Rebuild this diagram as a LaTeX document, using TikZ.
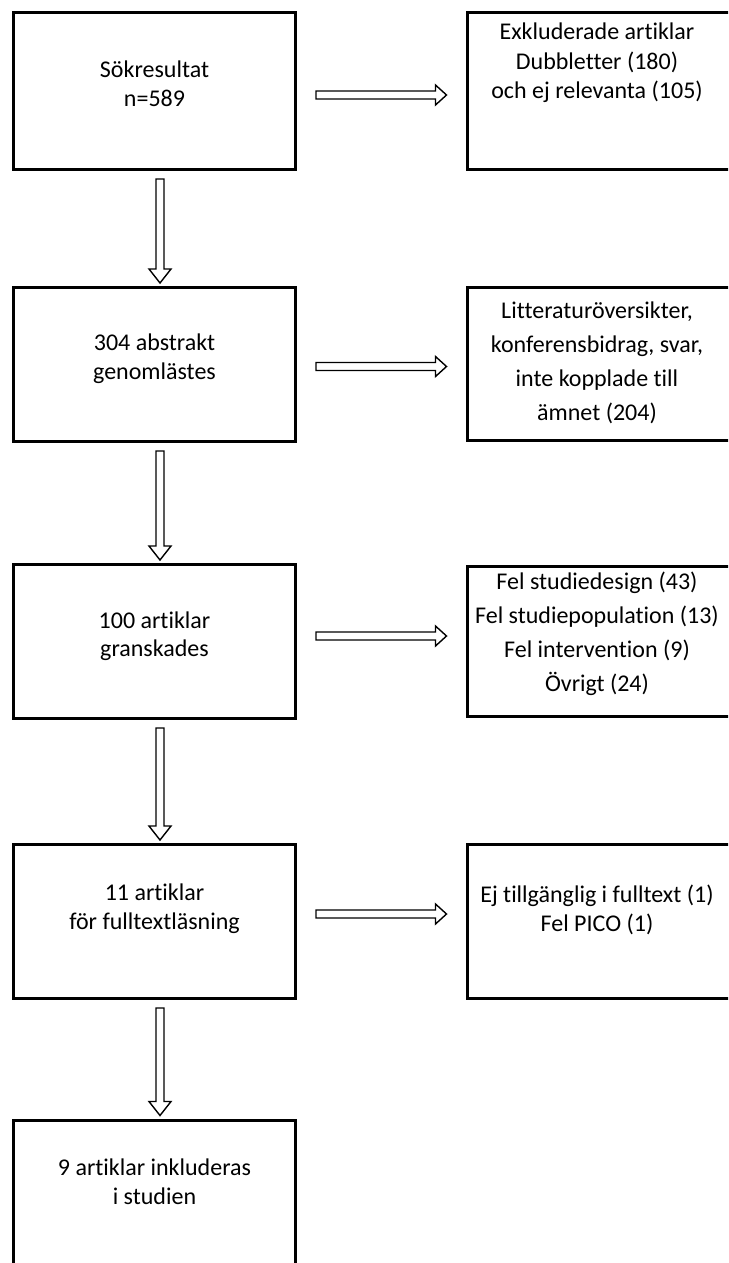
\documentclass[tikz,border=0pt]{standalone}
\usepackage{fontspec}
\setmainfont{Carlito}[Ligatures=NoCommon]
\usetikzlibrary{calc}
\begin{document}
\begin{tikzpicture}[x=1pt,y=1pt,
  box/.style={draw, line width=3pt, inner sep=0pt},
  lbox/.style={box, minimum width=282pt},
  rbox/.style={box, minimum width=268pt},
  ltxt/.style={align=center, inner sep=0pt, font=\fontsize{24}{28.5}\selectfont},
  rtxt/.style={align=center, inner sep=0pt, font=\fontsize{24}{34}\selectfont},
  rtxtn/.style={align=center, inner sep=0pt, font=\fontsize{24}{29.5}\selectfont},
  harrow/.style={draw, line width=1.4pt, fill=white, line join=miter,
    to path={let \p1=(\tikztostart), \p2=(\tikztotarget) in
      (\x1,\y1+4pt) -- (\x2-11pt,\y1+4pt) -- (\x2-11pt,\y1+10pt) -- (\x2,\y1)
      -- (\x2-11pt,\y1-10pt) -- (\x2-11pt,\y1-4pt) -- (\x1,\y1-4pt) -- cycle}},
  varrow/.style={draw, line width=1.4pt, fill=white, line join=miter,
    to path={let \p1=(\tikztostart), \p2=(\tikztotarget) in
      (\x1-4pt,\y1) -- (\x1-4pt,\y2+14pt) -- (\x1-11pt,\y2+14pt) -- (\x1,\y2)
      -- (\x1+11pt,\y2+14pt) -- (\x1+4pt,\y2+14pt) -- (\x1+4pt,\y1) -- cycle}},
]
\useasboundingbox (0,0) rectangle (728,-1263);
\clip (0,0) rectangle (728,-1263);
\fill[white] (0,0) rectangle (728,-1263);

% left column
\node[lbox, minimum height=157pt] (b1) at (154.5,-91) {};
\node[lbox, minimum height=154pt] (b2) at (154.5,-364.5) {};
\node[lbox, minimum height=154pt] (b3) at (154.5,-641.5) {};
\node[lbox, minimum height=154pt] (b4) at (154.5,-921.5) {};
\node[lbox, minimum height=160pt] (b5) at (154.5,-1200) {};

% right column
\node[rbox, minimum height=157pt] (r1) at (601,-91) {};
\node[rbox, minimum height=153pt] (r2) at (601,-364) {};
\node[rbox, minimum height=150pt] (r3) at (601,-641.5) {};
\node[rbox, minimum height=154pt] (r4) at (601,-921.5) {};

% texts
\node[ltxt] (t1) at (154.5,-84) {Sökresultat\\n=589};
\node[ltxt] (t2) at (154.5,-358.5) {304 abstrakt\\genomlästes};
\node[ltxt] (t3) at (154.5,-636) {100 artiklar\\granskades};
\node[ltxt] (t4) at (154.5,-908.5) {11 artiklar\\för fulltextläsning};
\node[ltxt] (t5) at (154.5,-1181.5) {9 artiklar inkluderas\\i studien};

\node[rtxtn] (s1) at (597,-63) {Exkluderade artiklar\\Dubbletter (180)\\och ej relevanta (105)};
\node[rtxt] (s2) at (597,-362.5) {Litteraturöversikter,\\konferensbidrag, svar,\\inte kopplade till\\ämnet (204)};
\node[rtxt] (s3) at (597,-634) {Fel studiedesign (43)\\Fel studiepopulation (13)\\Fel intervention (9)\\Övrigt (24)};
\node[ltxt] (s4) at (597,-910) {Ej tillgänglig i fulltext (1)\\Fel PICO (1)};

% horizontal arrows
\draw[harrow] ([xshift=19pt,yshift=-4pt]b1.east) to ([xshift=-19pt,yshift=-4pt]r1.west);
\draw[harrow] ([xshift=19pt,yshift=-2pt]b2.east) to ([xshift=-19pt,yshift=-2pt]r2.west);
\draw[harrow] ([xshift=19pt,yshift=5.5pt]b3.east) to ([xshift=-19pt,yshift=5.5pt]r3.west);
\draw[harrow] ([xshift=19pt,yshift=7.5pt]b4.east) to ([xshift=-19pt,yshift=7.5pt]r4.west);

% vertical arrows
\draw[varrow] ([xshift=5.5pt,yshift=-8pt]b1.south) to ([xshift=5.5pt,yshift=3pt]b2.north);
\draw[varrow] ([xshift=5.5pt,yshift=-8pt]b2.south) to ([xshift=5.5pt,yshift=3pt]b3.north);
\draw[varrow] ([xshift=5.5pt,yshift=-8pt]b3.south) to ([xshift=5.5pt,yshift=3pt]b4.north);
\draw[varrow] ([xshift=5.5pt,yshift=-8pt]b4.south) to ([xshift=5.5pt,yshift=3pt]b5.north);
\end{tikzpicture}
\end{document}
